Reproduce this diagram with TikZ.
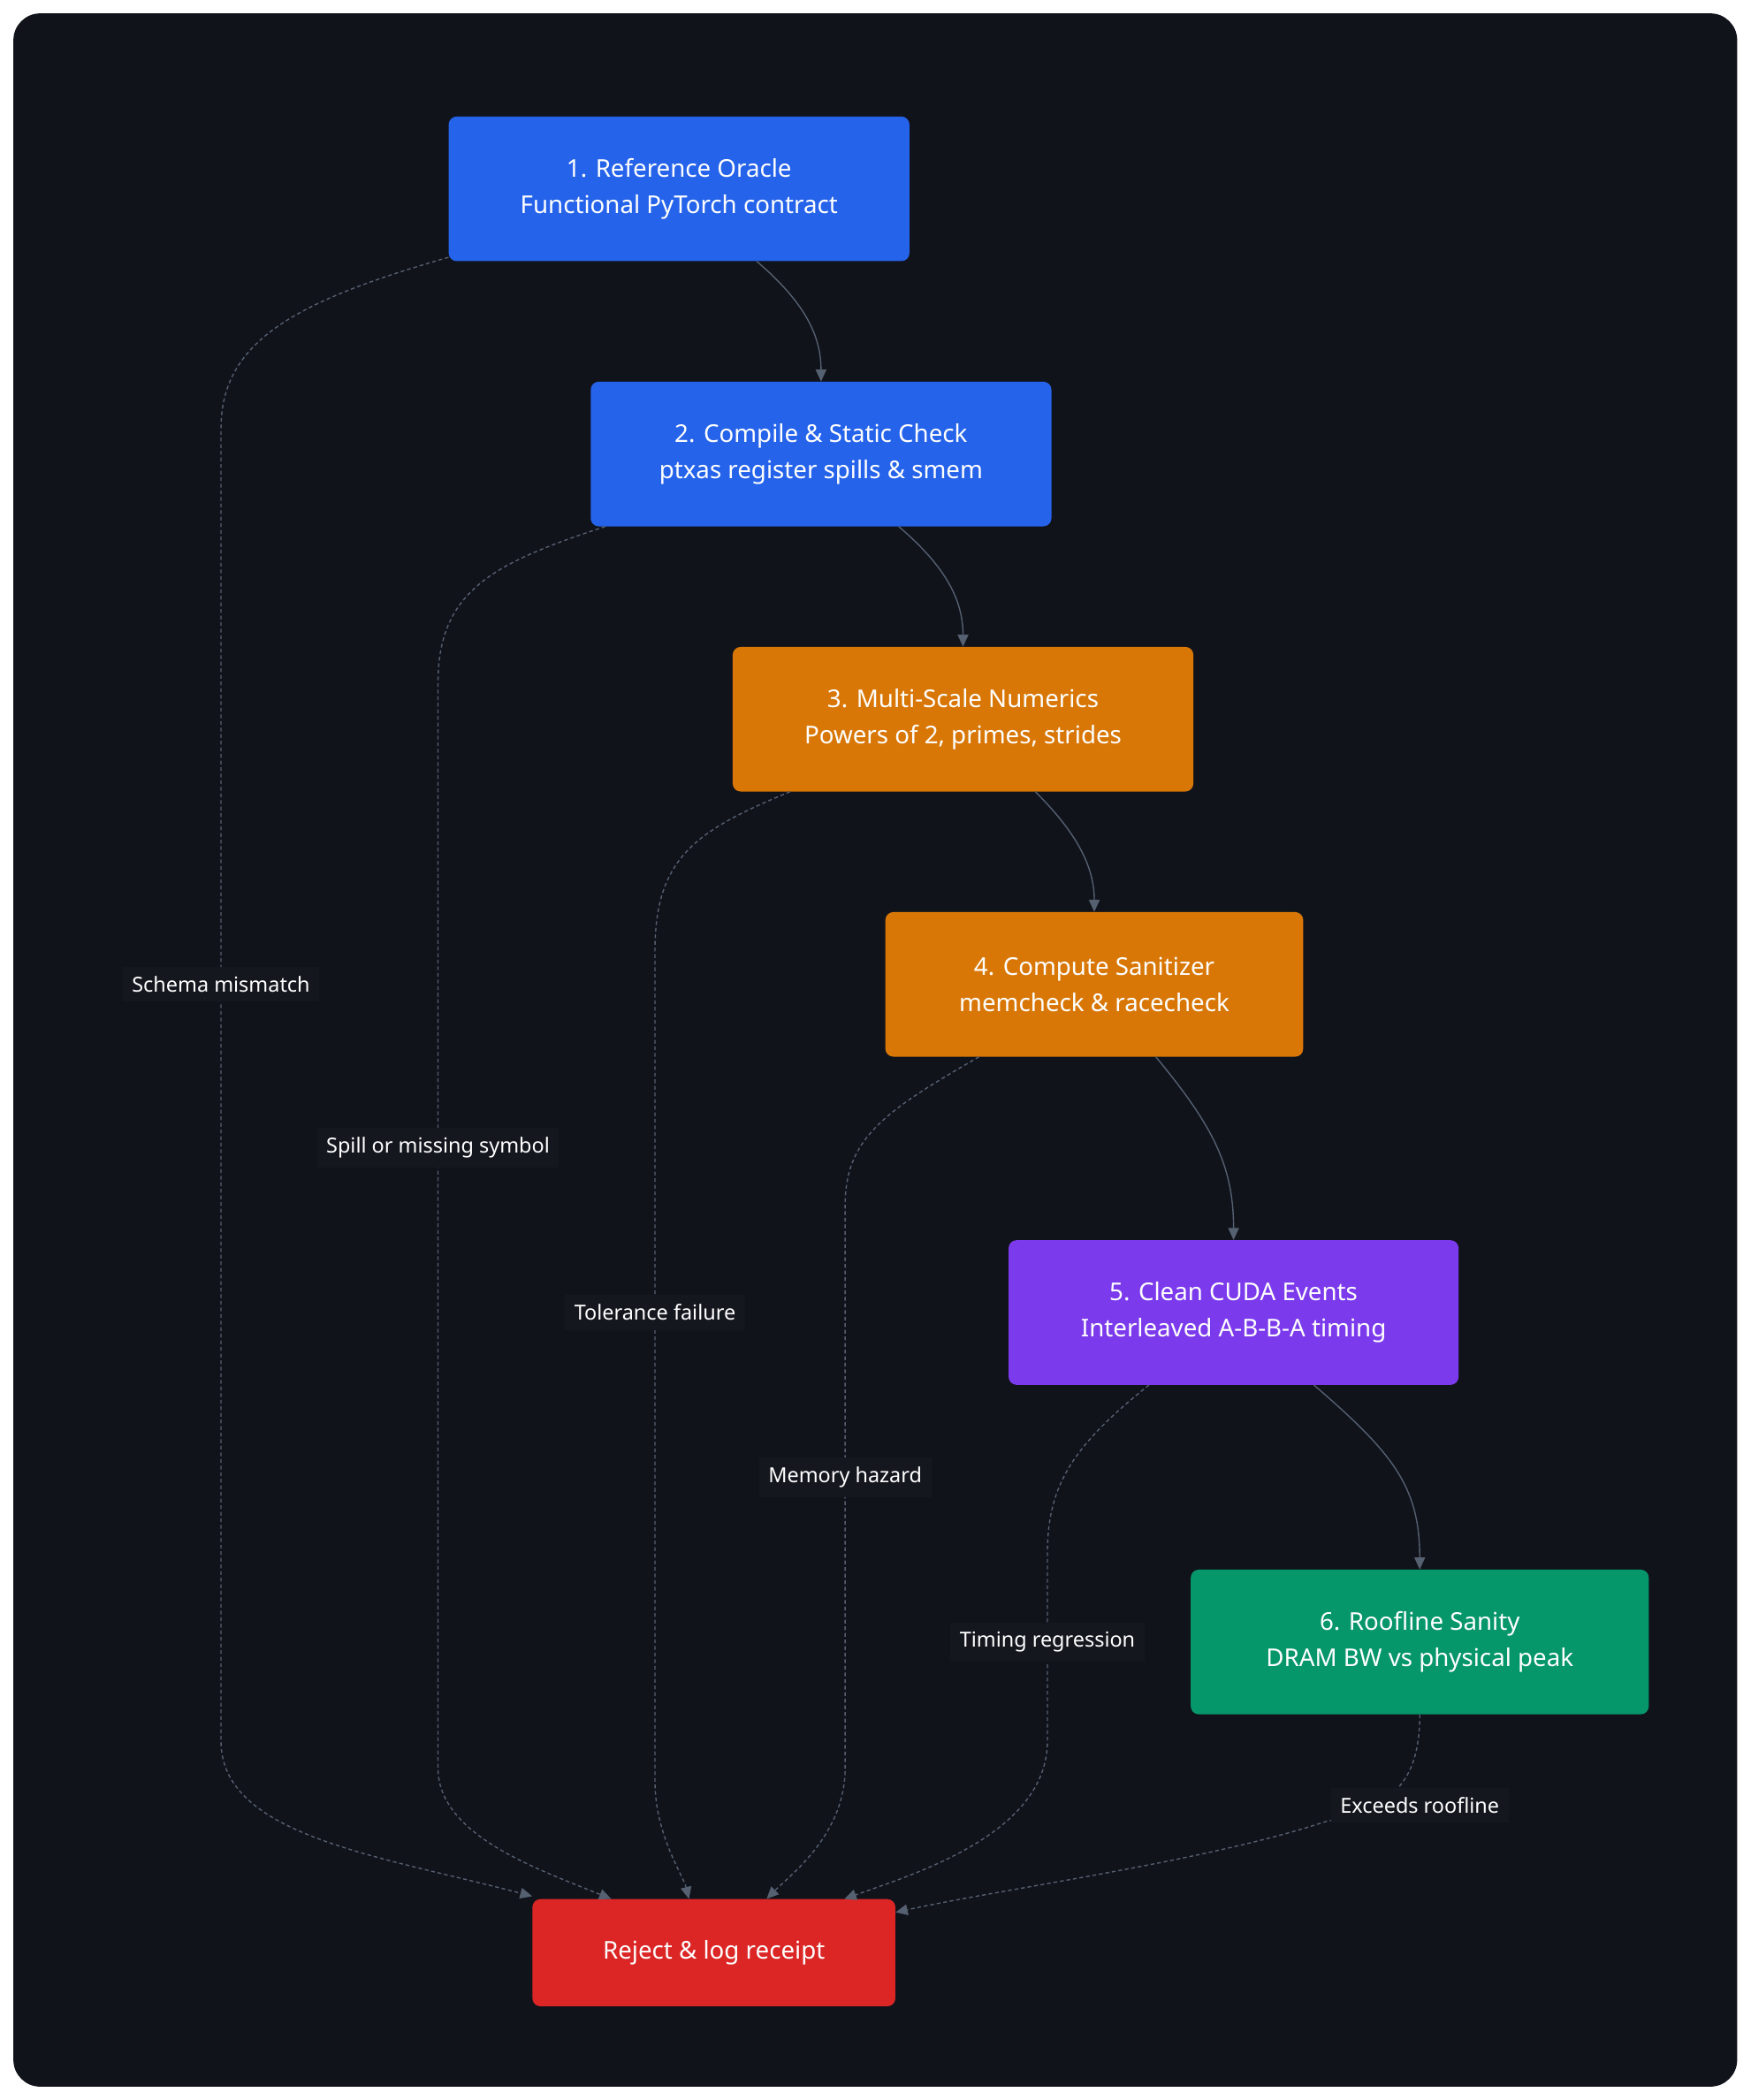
\documentclass[tikz,border=0pt]{standalone}
\usepackage{fontspec}
\setmainfont{Noto Sans}
\usetikzlibrary{calc,arrows.meta}
\definecolor{bg}{HTML}{11131B}
\definecolor{edge}{HTML}{556070}
\definecolor{lblbg}{HTML}{15171F}
\definecolor{cblue}{HTML}{2563EB}
\definecolor{corange}{HTML}{D97706}
\definecolor{cpurple}{HTML}{7C3AED}
\definecolor{cgreen}{HTML}{059669}
\definecolor{cred}{HTML}{DC2626}
\begin{document}
\begin{tikzpicture}[x=0.05cm,y=-0.05cm,
  box/.style={rounded corners=0.3cm,text=white,align=center,inner sep=0pt,
    font=\fontsize{26}{39}\selectfont,minimum width=17.2cm,minimum height=5.4cm},
  lbl/.style={fill=lblbg,text=white,inner sep=0.35cm,font=\fontsize{22}{26}\selectfont},
  solid edge/.style={draw=edge,line width=1.3pt,-{Triangle[length=0.45cm,width=0.4cm]}},
  dash edge/.style={draw=edge,line width=1.3pt,dash pattern=on 4pt off 3pt,-{Triangle[length=0.45cm,width=0.4cm]}}]
\fill[white] (0,0) rectangle (1307,1568);
\fill[bg,rounded corners=1cm] (10,10) rectangle (1297,1558);
\node[box,fill=cblue] (n1) at (507,141) {1. Reference Oracle\\Functional PyTorch contract};
\node[box,fill=cblue] (n2) at (613,339) {2. Compile \& Static Check\\ptxas register spills \& smem};
\node[box,fill=corange,minimum width=17.2cm] (n3) at (719,537) {3. Multi-Scale Numerics\\Powers of 2, primes, strides};
\node[box,fill=corange,minimum width=15.6cm] (n4) at (817,735) {4. Compute Sanitizer\\memcheck \& racecheck};
\node[box,fill=cpurple,minimum width=16.8cm] (n5) at (921,980) {5. Clean CUDA Events\\Interleaved A-B-B-A timing};
\node[box,fill=cgreen,minimum width=17.1cm] (n6) at (1060,1226) {6. Roofline Sanity\\DRAM BW vs physical peak};
\node[box,fill=cred,minimum width=13.55cm,minimum height=4cm] (rej) at (533,1458) {Reject \& log receipt};
% solid
\draw[solid edge] ($(n1.south)+(58,0)$) .. controls (600,225) and (613,250) .. (n2.north);
\draw[solid edge] ($(n2.south)+(58,0)$) .. controls (706,423) and (719,448) .. (n3.north);
\draw[solid edge] ($(n3.south)+(54,0)$) .. controls (805,623) and (817,648) .. (n4.north);
\draw[solid edge] ($(n4.south)+(46,0)$) .. controls (905,840) and (921,870) .. (n5.north);
\draw[solid edge] ($(n5.south)+(60,0)$) .. controls (1040,1085) and (1060,1110) .. (n6.north);
% dashed
\draw[dash edge] ($(n1.south west)+(0,-3)$) .. controls (220,225) and (165,255) .. (165,320) -- (165,1300) .. controls (165,1370) and (280,1385) .. ($(rej.north west)+(0,-2)$);
\draw[dash edge] ($(n2.south west)+(11,0)$) .. controls (370,420) and (327,440) .. (327,510) -- (327,1320) .. controls (327,1370) and (400,1395) .. ($(rej.north west)+(59,0)$);
\draw[dash edge] ($(n3.south west)+(43,0)$) .. controls (520,620) and (489,640) .. (489,710) -- (489,1330) .. controls (489,1370) and (510,1400) .. ($(rej.north west)+(117,0)$);
\draw[dash edge] ($(n4.south west)+(70,0)$) .. controls (660,830) and (631,850) .. (631,900) -- (631,1320) .. controls (631,1370) and (590,1400) .. ($(rej.north west)+(175,0)$);
\draw[dash edge] ($(n5.south west)+(105,0)$) .. controls (800,1080) and (782,1110) .. (782,1160) -- (782,1300) .. controls (782,1370) and (680,1400) .. ($(rej.north west)+(233,0)$);
\draw[dash edge] (n6.south) .. controls (1060,1330) and (1040,1350) .. (990,1360) .. controls (900,1390) and (750,1410) .. ($(rej.north east)+(0,10)$);
% labels
\node[lbl] (l1) at (165,735) {Schema mismatch};
\node[lbl] (l2) at (327,857) {Spill or missing symbol};
\node[lbl] (l3) at (489,980) {Tolerance failure};
\node[lbl] (l4) at (631,1103) {Memory hazard};
\node[lbl] (l5) at (782,1226) {Timing regression};
\node[lbl] (l6) at (1060,1348) {Exceeds roofline};
\end{tikzpicture}
\end{document}
